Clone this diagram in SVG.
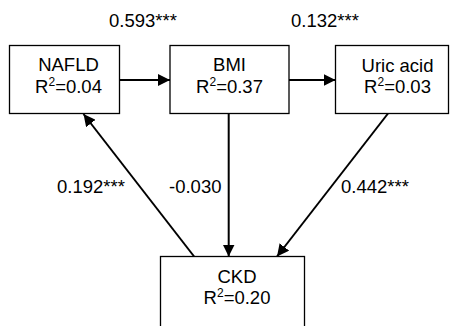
<svg xmlns="http://www.w3.org/2000/svg" width="451" height="326" viewBox="0 0 451 326">
<style>
.box{fill:#fff;stroke:#000;stroke-width:1.3}
.t{font-family:"Liberation Sans",Arial,sans-serif;font-size:18.5px;fill:#000;text-anchor:middle}
.l{font-family:"Liberation Sans",Arial,sans-serif;font-size:18.5px;fill:#000}
.c{stroke:#000;stroke-width:2;fill:none}
.s{font-size:12px}
</style>
<defs>
<marker id="ah" markerWidth="12" markerHeight="12" refX="10" refY="5" orient="auto" markerUnits="userSpaceOnUse" viewBox="0 0 10 10">
<path d="M0,0 L10,5 L0,10 z" fill="#000"/>
</marker>
</defs>
<g id="connectors">
<line class="c" x1="119" y1="80" x2="170" y2="80" marker-end="url(#ah)"/>
<line class="c" x1="289" y1="80" x2="335.5" y2="80" marker-end="url(#ah)"/>
<line class="c" x1="194.5" y1="257" x2="83.5" y2="114" marker-end="url(#ah)"/>
<line class="c" x1="228.7" y1="113.5" x2="228.7" y2="256.5" marker-end="url(#ah)"/>
<line class="c" x1="388" y1="113.5" x2="277" y2="256.5" marker-end="url(#ah)"/>
<text class="l" x="109" y="26.5">0.593***</text>
<text class="l" x="291" y="26.5">0.132***</text>
<text class="l" x="57" y="193">0.192***</text>
<text class="l" x="169" y="193">-0.030</text>
<text class="l" x="341" y="193">0.442***</text>
</g>
<g id="nafld">
<rect class="box" x="9.5" y="45.5" width="110" height="68"/>
<text class="t" x="68.5" y="71">NAFLD</text>
<text class="t" x="68.5" y="93">R<tspan class="s" dy="-7">2</tspan><tspan dy="7">=0.04</tspan></text>
</g>
<g id="bmi">
<rect class="box" x="170" y="45.5" width="119" height="68"/>
<text class="t" x="229.5" y="71">BMI</text>
<text class="t" x="229.5" y="93">R<tspan class="s" dy="-7">2</tspan><tspan dy="7">=0.37</tspan></text>
</g>
<g id="uric">
<rect class="box" x="335.5" y="45.5" width="113" height="68"/>
<text class="t" x="397.5" y="72">Uric acid</text>
<text class="t" x="397.5" y="93">R<tspan class="s" dy="-7">2</tspan><tspan dy="7">=0.03</tspan></text>
</g>
<g id="ckd">
<rect class="box" x="160.5" y="256.5" width="144" height="80"/>
<text class="t" x="237" y="282.5">CKD</text>
<text class="t" x="237" y="304">R<tspan class="s" dy="-7">2</tspan><tspan dy="7">=0.20</tspan></text>
</g>
</svg>
